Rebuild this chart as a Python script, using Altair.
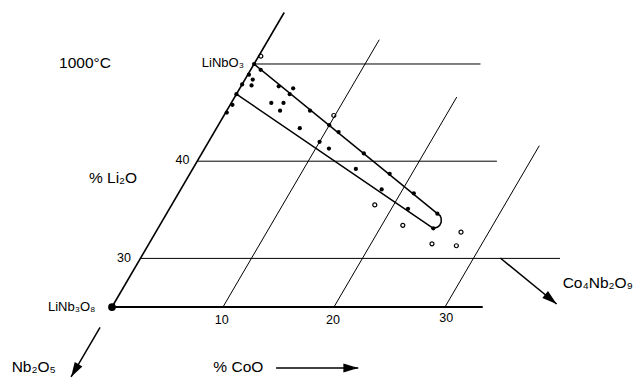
import altair as alt
import pandas as pd

# ---- diagram geometry (composition coordinates: % CoO, % Li2O) ----
SHEAR = 0.512          # horizontal shift of the oblique CoO axis per % Li2O
X_DOMAIN = [-10.09, 47.39]
Y_DOMAIN = [17.593, 56.584]

# constant-Li2O (horizontal) lines: level and CoO end
li_levels = [25, 30, 40, 50]
li_line_start = [0, 0, 0, 0]
li_line_end = [33.4, 37.8, 27.0, 20.4]
li_line_width = [2.2, 1.0, 1.0, 1.0]

# constant-CoO (oblique) lines: level and Li2O end
coo_levels = [0, 10, 20, 30]
coo_line_end = [55.3, 52.5, 46.6, 41.6]
coo_line_width = [1.6, 1.0, 1.0, 1.0]

# experimental points: single phase (filled) and two phase (open)
filled_coo = [0, 0.9, 0.1, 0.7, 0, 0.9, 0, 0.2, 0.1, 3.4, 4.8, 4.8, 3.6, 4.7, 4.8,
              7.5, 7.5, 10.0, 11.2, 10.0, 11.2, 14.6, 14.7, 18.0, 18.1, 21.2, 21.5,
              24.4, 24.8]
filled_li = [50, 49.4, 48.9, 48.4, 47.9, 47.8, 46.9, 45.8, 45.0, 47.7, 47.5, 46.9,
             46.0, 46.0, 45.2, 45.2, 43.4, 43.7, 43.0, 42.0, 41.3, 40.8, 39.2, 38.7,
             37.1, 36.7, 35.1, 34.6, 33.1]
open_coo = [0.2, 9.9, 18.3, 21.9, 27.5, 25.5, 27.8]
open_li = [50.8, 44.7, 35.5, 33.4, 32.7, 31.5, 31.3]

# solid-solution boundary
boundary_coo = [0, 24.4, 24.75, 25.0, 25.2, 25.22, 25.1, 24.8, 0]
boundary_li = [50, 34.6, 34.4, 34.1, 33.7, 33.4, 33.2, 33.1, 46.9]

# phase marker
phase_coo = [0]
phase_li = [25]

# arrows (start, tip) and head direction
arrow_c1 = [0, 18.0, 32.4]
arrow_l1 = [22.9, 18.72, 30.04]
arrow_c2 = [0, 25.4, 39.9]
arrow_l2 = [17.8, 18.72, 25.31]
arrow_angle = [210.3, 90, 129.5]

# labels
label_text = ["1000°C", "% Li₂O", "LiNbO₃", "40", "30", "LiNb₃O₈", "10", "20", "30",
              "Nb₂O₅", "% CoO", "Co₄Nb₂O₉"]
label_coo = [-15.28, -6.70, -0.96, -0.79, -0.90, -1.49, 10.54, 20.57, 30.72,
             -5.88, 12.29, 39.35]
label_li = [50.10, 38.27, 50.10, 40.17, 30.09, 25.0, 23.71, 23.71, 23.82,
            18.83, 18.83, 27.44]
label_align = ["center", "center", "right", "right", "right", "right", "center",
               "center", "center", "left", "left", "left"]
label_size = [15.5, 15.5, 13, 12.5, 12.5, 13, 12.5, 12.5, 12.5, 15.5, 15.5, 15.5]

FONT = "Liberation Sans"

def sx(c, l):
    return f"datum.{c} + {SHEAR} * (datum.{l} - 25)"

xs = alt.Scale(domain=X_DOMAIN, nice=False, zero=False)
ys = alt.Scale(domain=Y_DOMAIN, nice=False, zero=False)

# segments table
seg = pd.DataFrame({
    "c1": li_line_start + coo_levels,
    "l1": li_levels + [25, 25, 25, 25],
    "c2": li_line_end + coo_levels,
    "l2": li_levels + coo_line_end,
    "w": li_line_width + coo_line_width,
})
segments = alt.Chart(seg).mark_rule(color="black").transform_calculate(
    X1=sx("c1", "l1"), X2=sx("c2", "l2")
).encode(
    x=alt.X("X1:Q", scale=xs, axis=None),
    x2="X2:Q",
    y=alt.Y("l1:Q", scale=ys, axis=None),
    y2="l2:Q",
    strokeWidth=alt.StrokeWidth("w:Q", scale=None),
)

bnd = pd.DataFrame({"c": boundary_coo, "l": boundary_li, "o": list(range(len(boundary_coo)))})
boundary = alt.Chart(bnd).mark_line(
    color="black", strokeWidth=1.5, interpolate="linear", strokeJoin="round"
).transform_calculate(
    X=sx("c", "l")
).encode(
    x=alt.X("X:Q", scale=xs, axis=None),
    y=alt.Y("l:Q", scale=ys, axis=None),
    order="o:O",
)

filled = alt.Chart(pd.DataFrame({"c": filled_coo, "l": filled_li})).mark_point(
    filled=True, color="black", size=18, opacity=1
).transform_calculate(X=sx("c", "l")).encode(
    x=alt.X("X:Q", scale=xs, axis=None), y=alt.Y("l:Q", scale=ys, axis=None)
)

opened = alt.Chart(pd.DataFrame({"c": open_coo, "l": open_li})).mark_point(
    filled=False, color="black", size=16, strokeWidth=1.2, opacity=1
).transform_calculate(X=sx("c", "l")).encode(
    x=alt.X("X:Q", scale=xs, axis=None), y=alt.Y("l:Q", scale=ys, axis=None)
)

phase = alt.Chart(pd.DataFrame({"c": phase_coo, "l": phase_li})).mark_point(
    filled=True, color="black", size=60, opacity=1
).transform_calculate(X=sx("c", "l")).encode(
    x=alt.X("X:Q", scale=xs, axis=None), y=alt.Y("l:Q", scale=ys, axis=None)
)

arr = pd.DataFrame({"c1": arrow_c1, "l1": arrow_l1, "c2": arrow_c2, "l2": arrow_l2,
                    "a": arrow_angle})
arrow_lines = alt.Chart(arr).mark_rule(color="black", strokeWidth=1.5).transform_calculate(
    X1=sx("c1", "l1"), X2=sx("c2", "l2")
).encode(
    x=alt.X("X1:Q", scale=xs, axis=None), x2="X2:Q",
    y=alt.Y("l1:Q", scale=ys, axis=None), y2="l2:Q",
)
arrow_heads = alt.Chart(arr).mark_point(
    filled=True, color="black", opacity=1, size=220,
    shape="M0,0 L-0.6,2 L0.6,2 Z"
).transform_calculate(X2=sx("c2", "l2")).encode(
    x=alt.X("X2:Q", scale=xs, axis=None),
    y=alt.Y("l2:Q", scale=ys, axis=None),
    angle=alt.Angle("a:Q", scale=None),
)

lab = pd.DataFrame({"t": label_text, "c": label_coo, "l": label_li,
                    "al": label_align, "fs": label_size})
text_layers = []
for al in ["left", "center", "right"]:
    text_layers.append(
        alt.Chart(lab).transform_filter(alt.datum.al == al).mark_text(
            align=al, baseline="middle", font=FONT, color="black"
        ).transform_calculate(X=sx("c", "l")).encode(
            x=alt.X("X:Q", scale=xs, axis=None),
            y=alt.Y("l:Q", scale=ys, axis=None),
            text="t:N",
            size=alt.Size("fs:Q", scale=None),
        )
    )

chart = alt.layer(
    segments, boundary, filled, opened, phase, arrow_lines, arrow_heads, *text_layers
).properties(
    width=638, height=379, padding=0, autosize="none", background="white"
).configure_view(stroke=None)

chart.save("out.html", embed_options={"renderer": "svg", "actions": False})
